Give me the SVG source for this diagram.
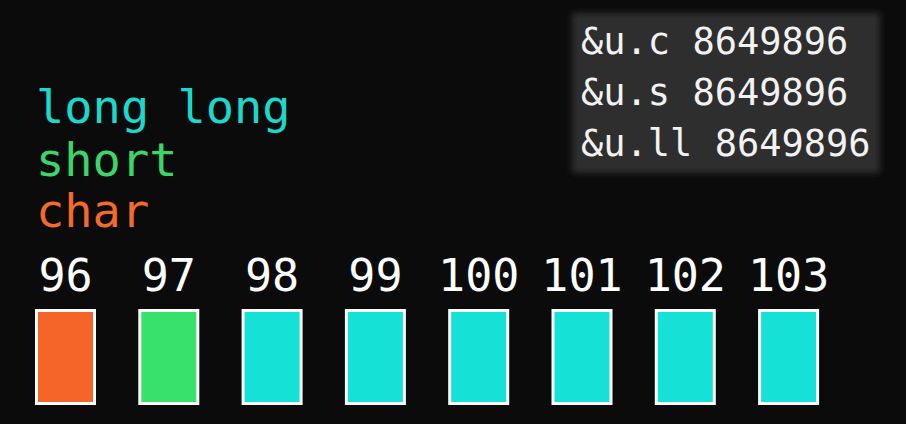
<svg xmlns="http://www.w3.org/2000/svg" width="906" height="424" viewBox="0 0 906 424">
<defs>
<filter id="soft" x="-10%" y="-10%" width="120%" height="120%"><feGaussianBlur stdDeviation="3"/></filter>
<style>
.mono{font-family:"DejaVu Sans Mono","Liberation Mono",monospace;}
.type{font-size:47px;}
.addr{font-size:37px;fill:#f2f2f2;}
.idx{font-size:45px;fill:#ffffff;text-anchor:middle;}
.cell{stroke:#ffffff;stroke-width:3;}
.c{fill:#f5652a;}
.s{fill:#38e06c;}
.ll{fill:#15e1d6;}
</style>
</defs>
<rect x="0" y="0" width="906" height="424" fill="#0b0b0b"/>
<g id="address-panel">
<rect x="572" y="13" width="308" height="160" fill="#2f2f2f" filter="url(#soft)"/>
<text class="mono addr" x="581" y="54">&amp;u.c 8649896</text>
<text class="mono addr" x="581" y="105">&amp;u.s 8649896</text>
<text class="mono addr" x="581" y="156">&amp;u.ll 8649896</text>
</g>
<g id="legend">
<text class="mono type" x="36" y="123" fill="#1ad8cc">long long</text>
<text class="mono type" x="36" y="176" fill="#3bd66a">short</text>
<text class="mono type" x="36" y="227" fill="#f26a2c">char</text>
</g>
<g id="connectors"></g>
<g id="byte-96"><text class="mono idx" x="65.5" y="291">96</text><rect class="cell c" x="36.5" y="310.5" width="58" height="93"/></g>
<g id="byte-97"><text class="mono idx" x="168.8" y="291">97</text><rect class="cell s" x="139.8" y="310.5" width="58" height="93"/></g>
<g id="byte-98"><text class="mono idx" x="272.1" y="291">98</text><rect class="cell ll" x="243.1" y="310.5" width="58" height="93"/></g>
<g id="byte-99"><text class="mono idx" x="375.4" y="291">99</text><rect class="cell ll" x="346.4" y="310.5" width="58" height="93"/></g>
<g id="byte-100"><text class="mono idx" x="478.7" y="291">100</text><rect class="cell ll" x="449.7" y="310.5" width="58" height="93"/></g>
<g id="byte-101"><text class="mono idx" x="582" y="291">101</text><rect class="cell ll" x="553" y="310.5" width="58" height="93"/></g>
<g id="byte-102"><text class="mono idx" x="685.3" y="291">102</text><rect class="cell ll" x="656.3" y="310.5" width="58" height="93"/></g>
<g id="byte-103"><text class="mono idx" x="788.6" y="291">103</text><rect class="cell ll" x="759.6" y="310.5" width="58" height="93"/></g>
</svg>
